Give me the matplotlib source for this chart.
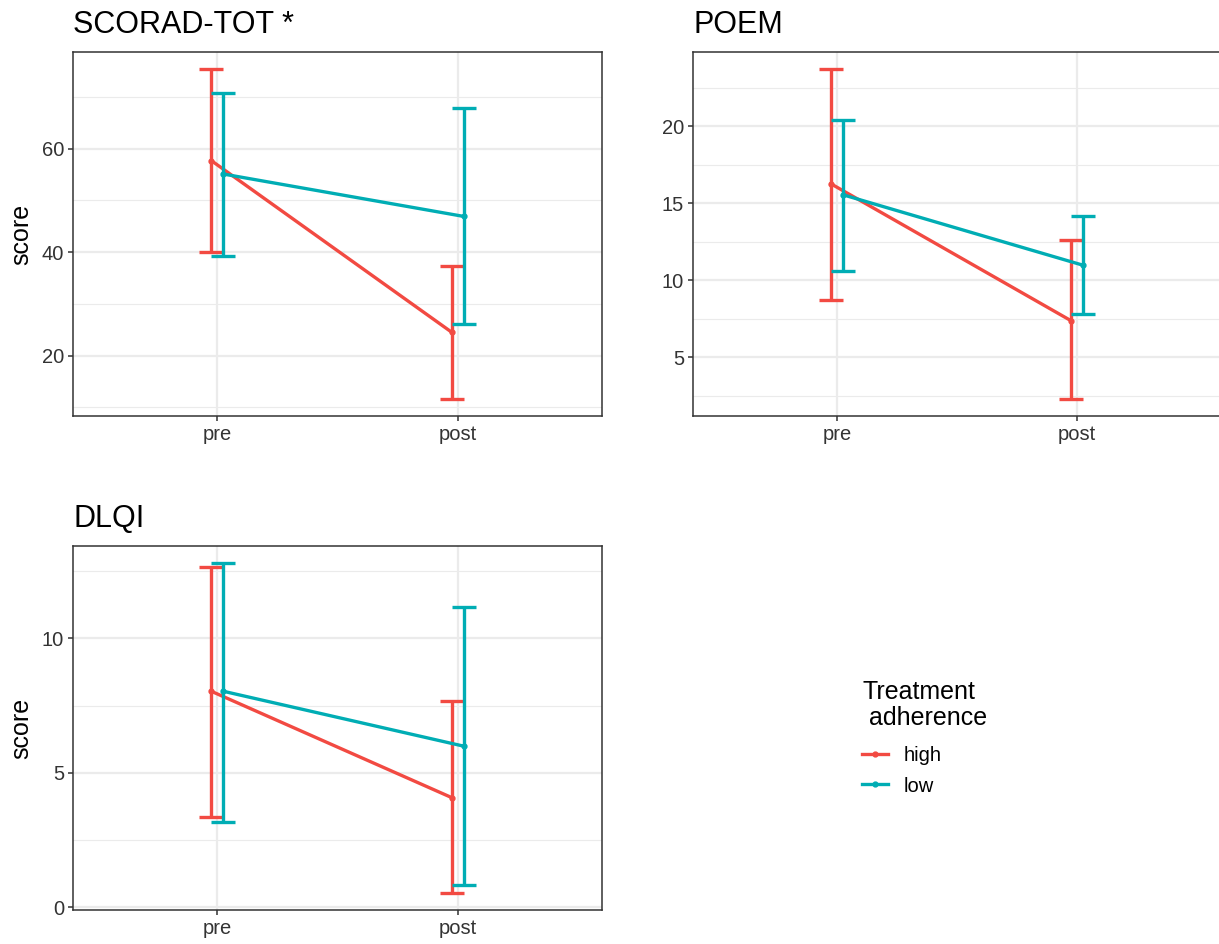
import matplotlib
matplotlib.use("Agg")
import matplotlib.pyplot as plt
from matplotlib.lines import Line2D
from matplotlib.ticker import MultipleLocator

plt.rcParams["font.family"] = ["Liberation Sans", "DejaVu Sans"]

# -- data ----------------------------------------------------------
timepoints = ["pre", "post"]
groups = ["high", "low"]

scorad_high_mean = [57.7, 24.5]
scorad_high_lo = [40.1, 11.5]
scorad_high_hi = [75.5, 37.4]
scorad_low_mean = [55.1, 46.9]
scorad_low_lo = [39.3, 26.0]
scorad_low_hi = [70.7, 67.8]

poem_high_mean = [16.25, 7.37]
poem_high_lo = [8.71, 2.26]
poem_high_hi = [23.73, 12.63]
poem_low_mean = [15.54, 10.97]
poem_low_lo = [10.6, 7.82]
poem_low_hi = [20.4, 14.16]

dlqi_high_mean = [8.03, 4.08]
dlqi_high_lo = [3.36, 0.52]
dlqi_high_hi = [12.64, 7.68]
dlqi_low_mean = [8.03, 5.99]
dlqi_low_lo = [3.19, 0.85]
dlqi_low_hi = [12.81, 11.15]

panel_titles = ["SCORAD-TOT *", "POEM", "DLQI"]
major_ticks = [[20, 40, 60], [5, 10, 15, 20], [0, 5, 10]]
minor_step = [10, 2.5, 2.5]

COLORS = {"high": "#F24A42", "low": "#00ADB4"}
DODGE = {"high": -0.025, "low": 0.025}
LW = 2.4

W, H = 1219, 944
# axes boxes in pixels: left, top, right, bottom
BOXES = [(73, 52, 602, 416), (693, 52, 1221, 416), (73, 546, 602, 910)]

panels = [
    {"high": (scorad_high_mean, scorad_high_lo, scorad_high_hi),
     "low": (scorad_low_mean, scorad_low_lo, scorad_low_hi)},
    {"high": (poem_high_mean, poem_high_lo, poem_high_hi),
     "low": (poem_low_mean, poem_low_lo, poem_low_hi)},
    {"high": (dlqi_high_mean, dlqi_high_lo, dlqi_high_hi),
     "low": (dlqi_low_mean, dlqi_low_lo, dlqi_low_hi)},
]

fig = plt.figure(figsize=(W / 100, H / 100), dpi=100)

for i, data in enumerate(panels):
    l, t, r, b = BOXES[i]
    ax = fig.add_axes([l / W, 1 - b / H, (r - l) / W, (b - t) / H])
    xs = [1, 2]
    for g in groups:
        mean, lo, hi = data[g]
        xg = [x + DODGE[g] for x in xs]
        ax.plot(xg, mean, "-o", color=COLORS[g], lw=LW, ms=3.5, zorder=3)
        ax.errorbar(xg, mean, yerr=[[m - a for m, a in zip(mean, lo)],
                                    [c - m for m, c in zip(mean, hi)]],
                    fmt="none", ecolor=COLORS[g], elinewidth=LW,
                    capsize=8.3, capthick=LW, zorder=3)

    # ggplot-like limits: 5% expansion on y, 0.6 on discrete x
    vals = [v for g in groups for v in data[g][1] + data[g][2]]
    span = max(vals) - min(vals)
    ax.set_ylim(min(vals) - 0.05 * span, max(vals) + 0.05 * span)
    ax.set_xlim(0.4, 2.6)
    ax.set_xticks(xs)
    ax.set_xticklabels(timepoints)
    ax.set_yticks(major_ticks[i])
    ax.yaxis.set_minor_locator(MultipleLocator(minor_step[i]))

    ax.grid(which="major", color="#EBEBEB", lw=1.6, zorder=0)
    ax.grid(which="minor", axis="y", color="#EBEBEB", lw=0.8, zorder=0)
    ax.set_axisbelow(True)
    for sp in ax.spines.values():
        sp.set_color("#333333")
        sp.set_linewidth(1.1)
    ax.tick_params(which="major", length=3.5, width=1.1, color="#333333",
                   labelsize=14.5, labelcolor="#333333", pad=3)
    ax.tick_params(which="minor", length=0)

    ax.set_title(panel_titles[i], loc="left", fontsize=22, pad=14)
    if i != 1:
        ax.set_ylabel("score", fontsize=18, labelpad=6)

# legend: title as text, keys via fig.legend
fig.text(862 / W, 1 - 725 / H, "Treatment\n adherence", fontsize=18,
         ha="left", va="baseline", linespacing=1.1)
handles = [Line2D([], [], color=COLORS[g], lw=LW, marker="o", ms=3.5) for g in groups]
fig.legend(handles, groups, loc="center left", bbox_to_anchor=(862 / W, 1 - 771 / H),
           frameon=False, fontsize=14.5, borderpad=0, borderaxespad=0,
           handlelength=1.3, handletextpad=0.75, labelspacing=0.55)

fig.savefig("out.png", dpi=100)
